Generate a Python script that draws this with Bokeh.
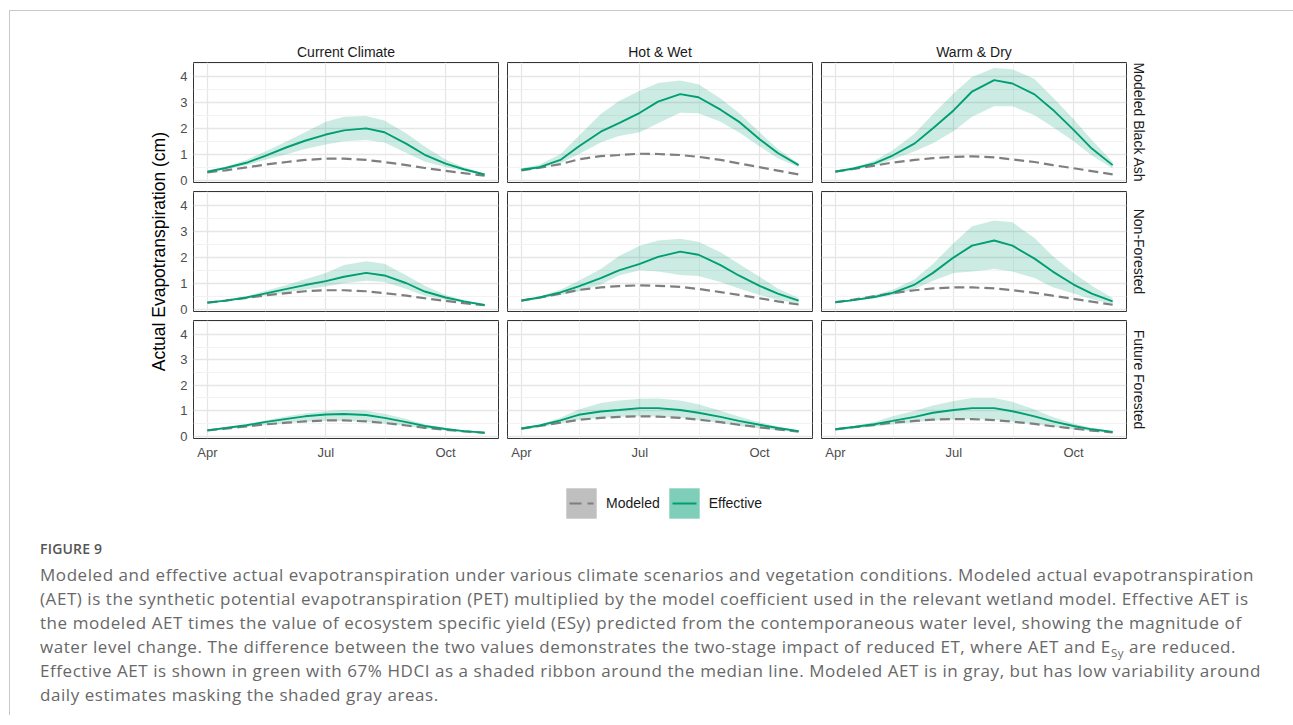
import pandas as pd
from math import pi
from bokeh.plotting import figure
from bokeh.layouts import column, row
from bokeh.models import (Range1d, FixedTicker, DatetimeTickFormatter, Title, Legend,
                          LegendItem, Div, Spacer, ColumnDataSource)
from bokeh.core.properties import value
from bokeh.embed import file_html
from bokeh.resources import INLINE

# ---------------- data ----------------
dates = ["2020-04-01", "2020-04-15", "2020-05-01", "2020-05-15", "2020-06-01",
         "2020-06-15", "2020-07-01", "2020-07-15", "2020-08-01", "2020-08-15",
         "2020-09-01", "2020-09-15", "2020-10-01", "2020-10-15", "2020-10-31"]
scenarios = ["Current Climate", "Hot & Wet", "Warm & Dry"]
vegetation = ["Modeled Black Ash", "Non-Forested", "Future Forested"]
tick_dates = ["2020-04-01", "2020-07-01", "2020-10-01"]
tick_labels = ["Apr", "Jul", "Oct"]
minor_tick_dates = ["2020-05-16", "2020-08-16"]
y_ticks = [0, 1, 2, 3, 4]
y_minor_ticks = [0.5, 1.5, 2.5, 3.5, 4.5]
legend_labels = ["Modeled", "Effective"]
y_title = "Actual Evapotranspiration (cm)"

# Modeled Black Ash
cc_ash_mod = [0.30, 0.38, 0.49, 0.60, 0.70, 0.78, 0.83, 0.83, 0.78, 0.70, 0.58, 0.47, 0.36, 0.27, 0.17]
cc_ash_eff = [0.33, 0.47, 0.67, 0.93, 1.27, 1.52, 1.76, 1.92, 2.00, 1.85, 1.40, 0.98, 0.64, 0.42, 0.22]
cc_ash_lo = [0.30, 0.42, 0.58, 0.78, 1.00, 1.20, 1.38, 1.50, 1.55, 1.45, 1.05, 0.72, 0.50, 0.35, 0.19]
cc_ash_hi = [0.37, 0.52, 0.78, 1.10, 1.50, 1.85, 2.25, 2.45, 2.48, 2.30, 1.80, 1.30, 0.80, 0.50, 0.25]

hw_ash_mod = [0.38, 0.48, 0.62, 0.80, 0.93, 0.97, 1.02, 1.01, 0.97, 0.90, 0.78, 0.65, 0.50, 0.37, 0.22]
hw_ash_eff = [0.40, 0.50, 0.78, 1.30, 1.87, 2.20, 2.60, 3.03, 3.32, 3.20, 2.72, 2.26, 1.58, 1.05, 0.58]
hw_ash_lo = [0.35, 0.45, 0.65, 1.00, 1.45, 1.70, 1.85, 2.20, 2.60, 2.58, 2.25, 1.85, 1.30, 0.85, 0.50]
hw_ash_hi = [0.45, 0.60, 1.00, 1.70, 2.55, 3.05, 3.45, 3.75, 3.85, 3.70, 3.15, 2.60, 1.85, 1.20, 0.65]

wd_ash_mod = [0.33, 0.43, 0.56, 0.68, 0.78, 0.85, 0.90, 0.92, 0.88, 0.80, 0.70, 0.58, 0.46, 0.35, 0.22]
wd_ash_eff = [0.33, 0.45, 0.65, 0.95, 1.42, 2.00, 2.70, 3.42, 3.86, 3.73, 3.31, 2.72, 1.94, 1.22, 0.58]
wd_ash_lo = [0.30, 0.40, 0.55, 0.80, 1.12, 1.42, 1.90, 2.45, 2.85, 2.85, 2.50, 2.05, 1.50, 0.95, 0.45]
wd_ash_hi = [0.37, 0.50, 0.75, 1.15, 1.80, 2.55, 3.35, 3.98, 4.33, 4.28, 3.90, 3.20, 2.35, 1.55, 0.70]

# Non-Forested
cc_nf_mod = [0.25, 0.33, 0.43, 0.53, 0.62, 0.69, 0.73, 0.73, 0.69, 0.62, 0.52, 0.42, 0.32, 0.23, 0.15]
cc_nf_eff = [0.25, 0.33, 0.45, 0.60, 0.78, 0.93, 1.08, 1.25, 1.40, 1.30, 1.00, 0.68, 0.45, 0.30, 0.16]
cc_nf_lo = [0.23, 0.30, 0.40, 0.52, 0.65, 0.76, 0.87, 1.00, 1.10, 1.05, 0.78, 0.52, 0.36, 0.25, 0.14]
cc_nf_hi = [0.27, 0.36, 0.50, 0.70, 0.93, 1.15, 1.40, 1.70, 1.85, 1.75, 1.30, 0.90, 0.55, 0.35, 0.18]

hw_nf_mod = [0.33, 0.45, 0.60, 0.74, 0.84, 0.89, 0.92, 0.90, 0.86, 0.78, 0.66, 0.55, 0.42, 0.30, 0.18]
hw_nf_eff = [0.33, 0.45, 0.65, 0.88, 1.20, 1.50, 1.75, 2.02, 2.22, 2.10, 1.70, 1.30, 0.90, 0.60, 0.33]
hw_nf_lo = [0.30, 0.40, 0.55, 0.68, 0.95, 1.30, 1.50, 1.45, 1.32, 1.28, 1.05, 0.80, 0.55, 0.35, 0.22]
hw_nf_hi = [0.37, 0.50, 0.75, 1.10, 1.55, 2.05, 2.45, 2.65, 2.72, 2.60, 2.20, 1.75, 1.25, 0.80, 0.43]

wd_nf_mod = [0.27, 0.37, 0.50, 0.62, 0.73, 0.80, 0.84, 0.84, 0.80, 0.73, 0.63, 0.52, 0.40, 0.29, 0.17]
wd_nf_eff = [0.26, 0.35, 0.47, 0.63, 0.95, 1.40, 2.00, 2.45, 2.65, 2.45, 1.95, 1.45, 0.95, 0.60, 0.30]
wd_nf_lo = [0.24, 0.32, 0.42, 0.54, 0.78, 1.10, 1.40, 1.45, 1.55, 1.45, 1.20, 0.85, 0.60, 0.38, 0.20]
wd_nf_hi = [0.28, 0.38, 0.55, 0.75, 1.15, 1.75, 2.55, 3.20, 3.42, 3.35, 2.75, 2.05, 1.40, 0.90, 0.43]

# Future Forested
cc_ff_mod = [0.23, 0.30, 0.38, 0.46, 0.53, 0.58, 0.62, 0.62, 0.58, 0.52, 0.42, 0.33, 0.25, 0.19, 0.13]
cc_ff_eff = [0.23, 0.32, 0.43, 0.55, 0.68, 0.78, 0.85, 0.87, 0.83, 0.72, 0.55, 0.40, 0.28, 0.20, 0.14]
cc_ff_lo = [0.21, 0.28, 0.36, 0.44, 0.52, 0.57, 0.60, 0.60, 0.57, 0.50, 0.40, 0.30, 0.23, 0.17, 0.12]
cc_ff_hi = [0.24, 0.34, 0.47, 0.62, 0.78, 0.90, 0.98, 1.03, 1.00, 0.88, 0.67, 0.47, 0.32, 0.22, 0.15]

hw_ff_mod = [0.30, 0.40, 0.53, 0.64, 0.72, 0.76, 0.78, 0.77, 0.72, 0.65, 0.55, 0.45, 0.35, 0.27, 0.18]
hw_ff_eff = [0.30, 0.42, 0.62, 0.84, 0.97, 1.03, 1.10, 1.10, 1.03, 0.92, 0.76, 0.60, 0.45, 0.32, 0.20]
hw_ff_lo = [0.26, 0.35, 0.50, 0.65, 0.72, 0.76, 0.78, 0.77, 0.72, 0.64, 0.52, 0.40, 0.30, 0.22, 0.16]
hw_ff_hi = [0.32, 0.46, 0.72, 1.05, 1.30, 1.40, 1.47, 1.48, 1.40, 1.25, 1.00, 0.77, 0.55, 0.38, 0.22]

wd_ff_mod = [0.27, 0.35, 0.44, 0.53, 0.60, 0.65, 0.67, 0.67, 0.63, 0.57, 0.48, 0.39, 0.30, 0.22, 0.15]
wd_ff_eff = [0.27, 0.36, 0.47, 0.60, 0.76, 0.92, 1.03, 1.10, 1.10, 0.98, 0.78, 0.58, 0.40, 0.27, 0.17]
wd_ff_lo = [0.23, 0.30, 0.38, 0.46, 0.55, 0.62, 0.66, 0.67, 0.65, 0.58, 0.48, 0.37, 0.27, 0.20, 0.15]
wd_ff_hi = [0.29, 0.40, 0.56, 0.78, 1.00, 1.20, 1.38, 1.50, 1.50, 1.35, 1.05, 0.75, 0.50, 0.33, 0.19]

panels = {
    (0, 0): (cc_ash_mod, cc_ash_eff, cc_ash_lo, cc_ash_hi),
    (0, 1): (hw_ash_mod, hw_ash_eff, hw_ash_lo, hw_ash_hi),
    (0, 2): (wd_ash_mod, wd_ash_eff, wd_ash_lo, wd_ash_hi),
    (1, 0): (cc_nf_mod, cc_nf_eff, cc_nf_lo, cc_nf_hi),
    (1, 1): (hw_nf_mod, hw_nf_eff, hw_nf_lo, hw_nf_hi),
    (1, 2): (wd_nf_mod, wd_nf_eff, wd_nf_lo, wd_nf_hi),
    (2, 0): (cc_ff_mod, cc_ff_eff, cc_ff_lo, cc_ff_hi),
    (2, 1): (hw_ff_mod, hw_ff_eff, hw_ff_lo, hw_ff_hi),
    (2, 2): (wd_ff_mod, wd_ff_eff, wd_ff_lo, wd_ff_hi),
}

# ---------------- styling ----------------
GREEN = "#009E73"
GRAY = "#7f7f7f"
FONT = "Liberation Sans"

x = pd.to_datetime(dates)
span = x[-1] - x[0]
x_start = x[0] - span * 0.05
x_end = x[-1] + span * 0.05
all_vals = [v for arrs in panels.values() for a in arrs for v in a]
y_lo, y_hi = min(all_vals), max(all_vals)
y_pad = (y_hi - y_lo) * 0.05
y_start, y_end = y_lo - y_pad, y_hi + y_pad


def ms(d):
    return pd.Timestamp(d).value / 1e6


x_ticks_ms = [ms(d) for d in tick_dates]
x_minor_ms = [ms(d) for d in minor_tick_dates]

FRAME_W, FRAME_H = 305, 120
TOPS = [26, 3, 3]
BOTTOMS = [6, 6, 22]


def make_panel(i, j):
    left = 19 if j == 0 else 5
    right = 34 if j == 2 else 4
    top = TOPS[i]
    bottom = BOTTOMS[i]
    p = figure(width=left + FRAME_W + right, height=top + FRAME_H + bottom,
               x_axis_type="datetime",
               x_range=Range1d(x_start, x_end), y_range=Range1d(y_start, y_end),
               x_axis_location="below" if i == 2 else None,
               y_axis_location="left" if j == 0 else None,
               min_border_left=left, min_border_right=right,
               min_border_top=top, min_border_bottom=bottom,
               output_backend="svg", toolbar_location=None)
    p.outline_line_color = "#333333"
    p.outline_line_width = 1
    p.background_fill_color = "white"
    p.border_fill_color = None

    xt = FixedTicker(ticks=x_ticks_ms, minor_ticks=x_minor_ms)
    yt = FixedTicker(ticks=y_ticks, minor_ticks=y_minor_ticks)
    p.xgrid.ticker = xt
    p.ygrid.ticker = yt
    for g in (p.xgrid, p.ygrid):
        g.grid_line_color = "#e6e6e6"
        g.grid_line_width = 1.3
        g.minor_grid_line_color = "#f2f2f2"
        g.minor_grid_line_width = 1

    if i == 2:
        ax = p.xaxis[0]
        ax.ticker = xt
        ax.formatter = DatetimeTickFormatter(
            milliseconds="%b", seconds="%b", minsec="%b", minutes="%b", hourmin="%b",
            hours="%b", days="%b", months="%b", years="%b")
        ax.major_label_overrides = {t: lab for t, lab in zip(x_ticks_ms, tick_labels)}
    if j == 0:
        ax = p.yaxis[0]
        ax.ticker = FixedTicker(ticks=y_ticks)
    for ax in list(p.xaxis) + list(p.yaxis):
        ax.axis_line_color = None
        ax.major_tick_out = 0
        ax.major_tick_in = 0
        ax.minor_tick_out = 0
        ax.minor_tick_in = 0
        ax.major_label_text_font = FONT
        ax.major_label_text_font_size = "13px"
        ax.major_label_text_color = "#4d4d4d"
        ax.major_label_standoff = 6

    mod, eff, lo, hi = panels[(i, j)]
    src = ColumnDataSource(dict(x=x, mod=mod, eff=eff, lo=lo, hi=hi))
    p.varea(x="x", y1="lo", y2="hi", source=src, fill_color=GREEN, fill_alpha=0.2)
    p.line(x="x", y="mod", source=src, line_color=GRAY, line_width=2.2, line_dash="10 5")
    p.line(x="x", y="eff", source=src, line_color=GREEN, line_width=1.9)

    if i == 0:
        p.add_layout(Title(text=scenarios[j], align="center", text_font=FONT,
                           text_font_size="14px", text_font_style="normal",
                           text_color="#1a1a1a", standoff=6), "above")
    if j == 2:
        p.add_layout(Title(text=vegetation[i], align="center", text_font=FONT,
                           text_font_size="14px", text_font_style="normal",
                           text_color="#1a1a1a", standoff=8), "right")
    return p


rows = [row([make_panel(i, j) for j in range(3)], spacing=0) for i in range(3)]
grid = column(rows, spacing=0)
grid_h = sum(TOPS) + sum(BOTTOMS) + 3 * FRAME_H

# y-axis title
yt_fig = figure(width=32, height=grid_h, x_range=Range1d(0, 1), y_range=Range1d(0, 1),
                x_axis_location=None, y_axis_location=None, min_border=0,
                output_backend="svg", toolbar_location=None)
yt_fig.outline_line_color = None
yt_fig.border_fill_color = None
yt_fig.grid.visible = False
yt_fig.text(x=[0.5], y=[0.495], text=[y_title], angle=pi / 2, text_align="center",
            text_baseline="middle", text_font=value(FONT), text_font_size=value("17.5px"),
            text_color="#000000")

main = row([Spacer(width=132, height=grid_h), yt_fig, grid], spacing=0)

# legend
lg = figure(width=1150, height=73, x_range=Range1d(0, 1), y_range=Range1d(0, 1),
            x_axis_location=None, y_axis_location=None, min_border=0,
            output_backend="svg", toolbar_location=None)
lg.outline_line_color = None
lg.border_fill_color = None
lg.grid.visible = False
# legend-key renderers (data placed outside the visible range)
key_src = ColumnDataSource(dict(x=[5, 6], y=[5, 5], y1=[5, 5], y2=[6, 6]))
r_mod_fill = lg.varea(x="x", y1="y1", y2="y2", source=key_src, fill_color=GRAY, fill_alpha=0.5)
r_mod_line = lg.line(x="x", y="y", source=key_src, line_color=GRAY, line_width=2.2,
                     line_dash="0 7 12 6 6 100")
r_eff_fill = lg.varea(x="x", y1="y1", y2="y2", source=key_src, fill_color=GREEN, fill_alpha=0.5)
r_eff_line = lg.line(x="x", y="y", source=key_src, line_color=GREEN, line_width=1.9,
                     line_dash="0 7 24 100")
legend = Legend(items=[LegendItem(label=legend_labels[0], renderers=[r_mod_fill, r_mod_line]),
                       LegendItem(label=legend_labels[1], renderers=[r_eff_fill, r_eff_line])],
                location=(552, 13), orientation="horizontal", glyph_width=38, glyph_height=38,
                label_standoff=6, spacing=5, padding=0, margin=0,
                border_line_color=None, background_fill_alpha=0,
                label_text_font=FONT, label_text_font_size="14px", label_text_color="#1a1a1a")
lg.add_layout(legend, "center")

lines = [
    "Modeled and effective actual evapotranspiration under various climate scenarios and vegetation conditions. Modeled actual evapotranspiration",
    "(AET) is the synthetic potential evapotranspiration (PET) multiplied by the model coefficient used in the relevant wetland model. Effective AET is",
    "the modeled AET times the value of ecosystem specific yield (ESy) predicted from the contemporaneous water level, showing the magnitude of",
    "water level change. The difference between the two values demonstrates the two-stage impact of reduced ET, where AET and E<span style='font-size:11.5px;position:relative;top:4px;line-height:0;'>Sy</span> are reduced.",
    "Effective AET is shown in green with 67% HDCI as a shaded ribbon around the median line. Modeled AET is in gray, but has low variability around",
    "daily estimates masking the shaded gray areas.",
]
cap_html = ("<div style=\"font-family:'Open Sans';color:#686868;padding-left:25px;white-space:nowrap;\">"
            "<div style='font-size:14px;font-weight:600;color:#555555;line-height:18px;margin-bottom:5px;letter-spacing:0.2px;'>FIGURE 9</div>"
            + "".join(f"<div style='font-size:17px;line-height:24px;height:24px;letter-spacing:0.56px;'>{t}</div>" for t in lines)
            + "</div>")
caption = Div(text=cap_html, width=1284, height=170)

inner = column([Spacer(width=1284, height=25), main, lg, caption], spacing=0,
               styles={"border-top": "1px solid #c8c8c8", "border-left": "1px solid #c8c8c8"})
layout = column([Spacer(width=1293, height=10), row([Spacer(width=9, height=10), inner], spacing=0)],
                spacing=0)

open("out.html", "w").write(file_html(layout, INLINE))
